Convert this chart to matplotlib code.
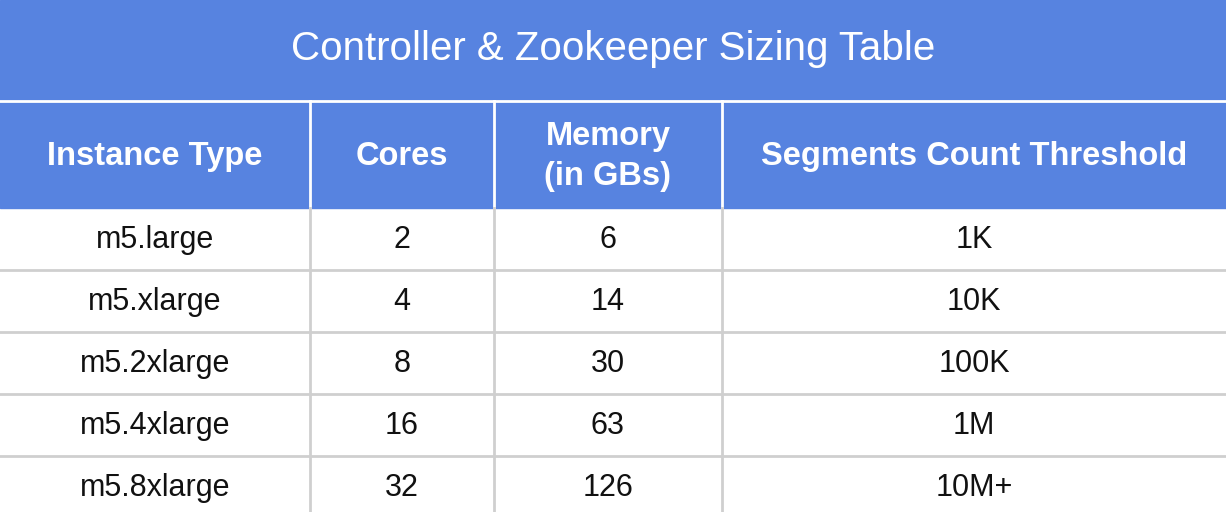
import matplotlib.pyplot as plt
from matplotlib.patches import Rectangle

plt.rcParams['font.family'] = ['Liberation Sans', 'DejaVu Sans']

title = "Controller & Zookeeper Sizing Table"
headers = ["Instance Type", "Cores", "Memory\n(in GBs)", "Segments Count Threshold"]
instance = ["m5.large", "m5.xlarge", "m5.2xlarge", "m5.4xlarge", "m5.8xlarge"]
cores = ["2", "4", "8", "16", "32"]
memory = ["6", "14", "30", "63", "126"]
threshold = ["1K", "10K", "100K", "1M", "10M+"]

W, H = 1226, 512
col_edges = [0, 310, 494, 722, W]
title_h, head_h, row_h = 101, 107, 62
blue = '#5783e0'
line = '#cfcfcf'

fig = plt.figure(figsize=(W / 100, H / 100), dpi=100)
ax = fig.add_axes([0, 0, 1, 1])
ax.set_xlim(0, W)
ax.set_ylim(H, 0)
ax.axis('off')

ax.add_patch(Rectangle((0, 0), W, title_h + head_h, color=blue))
ax.text(W / 2, title_h / 2 - 2, title, color='white', fontsize=29, ha='center', va='center')
ax.plot([0, W], [title_h, title_h], color='white', lw=2)

y_head = title_h + head_h / 2 + 2
for i, h in enumerate(headers):
    xc = (col_edges[i] + col_edges[i + 1]) / 2
    ax.text(xc, y_head, h, color='white', fontsize=23.5, fontweight='bold',
            ha='center', va='center', linespacing=1.4)
for x in col_edges[1:-1]:
    ax.plot([x, x], [title_h, title_h + head_h], color='white', lw=2)
    ax.plot([x, x], [title_h + head_h, H], color=line, lw=2)

cols = [instance, cores, memory, threshold]
top = title_h + head_h
for r in range(len(instance)):
    y0 = top + r * row_h
    ax.plot([0, W], [y0 + row_h, y0 + row_h], color=line, lw=2)
    for i, col in enumerate(cols):
        xc = (col_edges[i] + col_edges[i + 1]) / 2
        ax.text(xc, y0 + row_h / 2 + 1, col[r], color='#111111', fontsize=22,
                ha='center', va='center')

fig.savefig('out.png', dpi=100)
